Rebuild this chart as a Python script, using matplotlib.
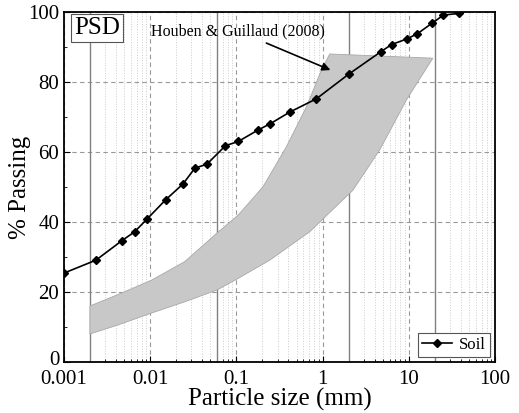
import numpy as np
import matplotlib.pyplot as plt
import matplotlib.transforms as mtransforms
from matplotlib.ticker import LogLocator, FixedLocator, NullFormatter

plt.rcParams['font.family'] = ['Liberation Serif', 'DejaVu Serif']

# soil grading curve
soil_size = [0.001, 0.00235, 0.00466, 0.00659, 0.00916, 0.0152, 0.0241, 0.033,
             0.0454, 0.0747, 0.105, 0.179, 0.248, 0.416, 0.847, 2.0, 4.71,
             6.31, 9.5, 12.6, 18.6, 25.2, 37.8]
soil_pass = [25.4, 29.1, 34.6, 37.2, 40.8, 46.4, 50.9, 55.4, 56.5, 61.8, 63.0,
             66.3, 68.1, 71.4, 75.2, 82.2, 88.6, 90.7, 92.3, 93.8, 96.8, 99.1, 99.6]

# Houben & Guillaud (2008) band
upper_size = [0.002, 0.00426, 0.0104, 0.0252, 0.06, 0.105, 0.204, 0.38, 0.649, 0.968, 1.21, 19.0]
upper_pass = [16.0, 19.3, 23.4, 28.7, 36.9, 42.0, 50.1, 61.5, 72.9, 83.4, 88.0, 86.8]
lower_size = [0.002, 0.00426, 0.0104, 0.0252, 0.06, 0.105, 0.244, 0.708, 2.25, 4.6, 9.4, 19.0]
lower_pass = [8.0, 10.6, 14.0, 17.2, 20.6, 23.9, 29.1, 37.2, 49.1, 60.6, 74.9, 86.8]

# soil class boundaries
boundaries = [0.002, 0.06, 2, 20]

fig = plt.figure(figsize=(5.19, 4.13), dpi=100)
ax = fig.add_axes([0.1233, 0.1235, 0.8305, 0.8475])

band_x = upper_size + lower_size[::-1]
band_y = upper_pass + lower_pass[::-1]
ax.fill(band_x, band_y, facecolor='#c8c8c8', edgecolor='#a8a8a8', lw=0.6, zorder=2)

for b in boundaries:
    ax.axvline(b, color='#808080', lw=1.0, zorder=1.5)

ax.plot(soil_size, soil_pass, '-D', color='black', ms=4.5, lw=1.2,
        label='Soil', zorder=4)

ax.set_xscale('log')
ax.set_xlim(0.001, 100)
ax.set_ylim(0, 100)
ax.xaxis.set_minor_locator(LogLocator(base=10, subs=np.arange(2, 10), numticks=20))
ax.xaxis.set_minor_formatter(NullFormatter())
ax.set_xticks([0.001, 0.01, 0.1, 1, 10, 100])
ax.set_xticklabels(['0.001', '0.01', '0.1', '1', '10', '100'])
ax.set_yticks([0, 20, 40, 60, 80, 100])
ax.yaxis.set_minor_locator(FixedLocator([10, 30, 50, 70, 90]))

ax.grid(which='major', axis='both', color='#999999', ls=(0, (4, 3)), lw=0.8, zorder=0)
ax.grid(which='minor', axis='x', color='#cccccc', ls=':', lw=0.7, zorder=0)
ax.set_axisbelow(True)

ax.tick_params(which='both', direction='in', labelsize=15, top=False, right=False)
ax.tick_params(axis='x', which='major', pad=6)
ax.tick_params(which='major', length=4)
ax.tick_params(which='minor', length=2.5)
for s in ax.spines.values():
    s.set_linewidth(1.3)

# lift the "0" label a little so it clears "0.001"
zero_lbl = ax.get_yticklabels()[0]
zero_lbl.set_transform(zero_lbl.get_transform() +
                       mtransforms.ScaledTranslation(0, 4 / 100, fig.dpi_scale_trans))

ax.set_xlabel('Particle size (mm)', fontsize=18, labelpad=-1)
ax.set_ylabel('% Passing', fontsize=18, labelpad=-2)

ax.text(0.0013, 95.5, 'PSD', fontsize=18, va='center', ha='left',
        bbox=dict(boxstyle='square,pad=0.12', fc='white', ec='#555555', lw=0.8), zorder=5)

ax.annotate('Houben & Guillaud (2008)', xy=(1.32, 83.1), xytext=(0.105, 94.5),
            ha='center', va='center', fontsize=11.5,
            arrowprops=dict(arrowstyle='-|>', color='black', lw=1.2, mutation_scale=12),
            zorder=5)

leg = ax.legend(loc='lower right', fontsize=12, fancybox=False, edgecolor='#555555',
                framealpha=1, handlelength=1.8, borderpad=0.25, borderaxespad=0.3,
                handletextpad=0.4)
leg.get_frame().set_linewidth(0.8)

fig.savefig('out.png', dpi=100)
